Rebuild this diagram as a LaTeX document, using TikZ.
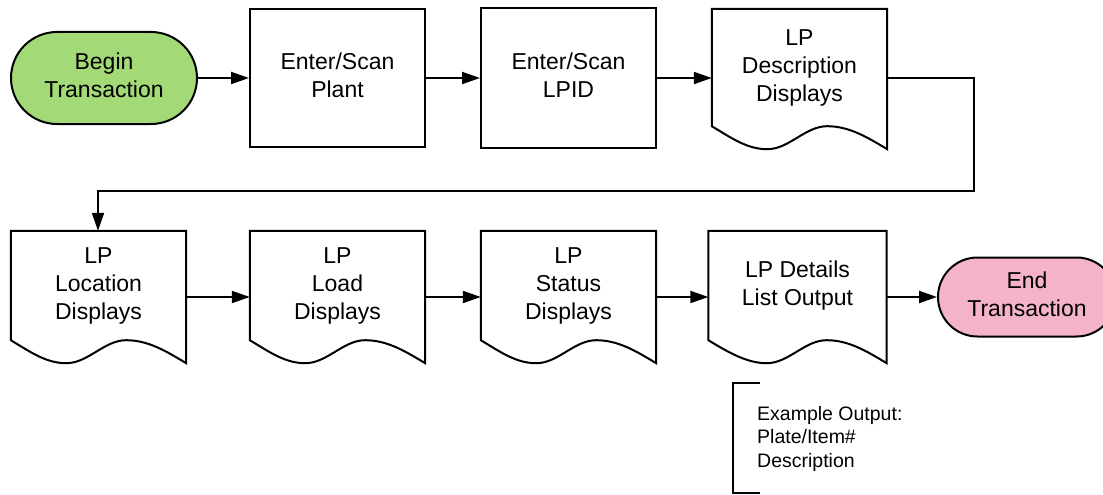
\documentclass[tikz,border=0pt]{standalone}
\usepackage{fontspec}
\setmainfont{Liberation Sans}
\usetikzlibrary{shapes.misc,arrows.meta}
\definecolor{startgreen}{HTML}{A3D977}
\definecolor{endpink}{HTML}{F4B3C6}
\tikzset{
  term/.style={rounded rectangle, draw=black, line width=2pt, align=center,
    font=\fontsize{23}{28}\selectfont, inner sep=0pt, text depth=5pt},
  procbox/.style={rectangle, draw=black, line width=2pt, align=center,
    font=\fontsize{23}{28}\selectfont, minimum width=175pt, inner sep=0pt, text depth=5pt},
  doctext/.style={rectangle, draw=none, align=center,
    font=\fontsize{23}{28}\selectfont, minimum width=175pt, inner sep=0pt},
  docline/.style={draw=black, line width=2pt, line join=miter},
  flow/.style={draw=black, line width=2pt, -{Triangle[length=18pt,width=12pt]}},
  note/.style={align=left, font=\fontsize{19.5}{23.5}\selectfont, inner sep=0pt, anchor=north west},
  bracketline/.style={draw=black, line width=2pt, line join=miter},
}
\newcommand\docshape[1]{%
  \draw[docline] (#1.south west) -- (#1.north west) -- (#1.north east)
    -- ([yshift=-23pt]#1.south east)
    .. controls +(-20,-12) and +(22,0) .. ([xshift=-60pt]#1.south east)
    .. controls +(-22,0) and +(22,0) .. ([xshift=-120pt,yshift=-23pt]#1.south east)
    .. controls +(-20,0) and +(20,12) .. (#1.south west) -- cycle;}
\begin{document}
\begin{tikzpicture}[x=1pt,y=-1pt]
\useasboundingbox (0,0) rectangle (1103,495);
% row 1
\node[term, fill=startgreen, minimum width=186pt, minimum height=92pt] (begin) at (104,78) {Begin\\Transaction};
\node[procbox, minimum height=138pt] (plant) at (337.5,78) {Enter/Scan\\Plant};
\node[procbox, minimum height=140pt] (lpid) at (568.5,78) {Enter/Scan\\LPID};
\node[doctext, minimum height=117pt] (desc) at (799.5,67.5) {LP\\Description\\Displays};
\docshape{desc}
% row 2
\node[doctext, minimum height=109pt] (loc) at (98.5,285.5) {LP\\Location\\Displays};
\node[doctext, minimum height=109pt] (load) at (337.5,285.5) {LP\\Load\\Displays};
\node[doctext, minimum height=109pt] (status) at (568.5,285.5) {LP\\Status\\Displays};
\node[doctext, minimum height=109pt, minimum width=178pt] (details) at (797.5,285.5) {LP Details\\List Output};
\docshape{loc}
\docshape{load}
\docshape{status}
\docshape{details}
\node[term, fill=endpink, minimum width=178pt, minimum height=79pt] (end) at (1027,297) {End\\Transaction};
% connectors
\draw[flow] (begin.east) -- (plant.west |- begin.east);
\draw[flow] (plant.east) -- (plant.east -| lpid.west);
\draw[flow] (lpid.east) -- (lpid.east -| desc.west);
\coordinate (c1) at (974,78);
\coordinate (c2) at (974,191);
\coordinate (c3) at (98,191);
\draw[flow] (desc.east |- c1) -- (c1) -- (c2) -- (c3) -- (c3 |- loc.north);
\coordinate (r2) at (0,297);
\draw[flow] (loc.east |- r2) -- (load.west |- r2);
\draw[flow] (load.east |- r2) -- (status.west |- r2);
\draw[flow] (status.east |- r2) -- (details.west |- r2);
\draw[flow] (details.east |- end.west) -- (end.west);
% annotation
\node[note] (ex) at (757,406) {Example Output:\\Plate/Item\#\\Description};
\draw[bracketline] (760,383) -- (733,383) -- (733,493) -- (760,493);
\end{tikzpicture}
\end{document}
